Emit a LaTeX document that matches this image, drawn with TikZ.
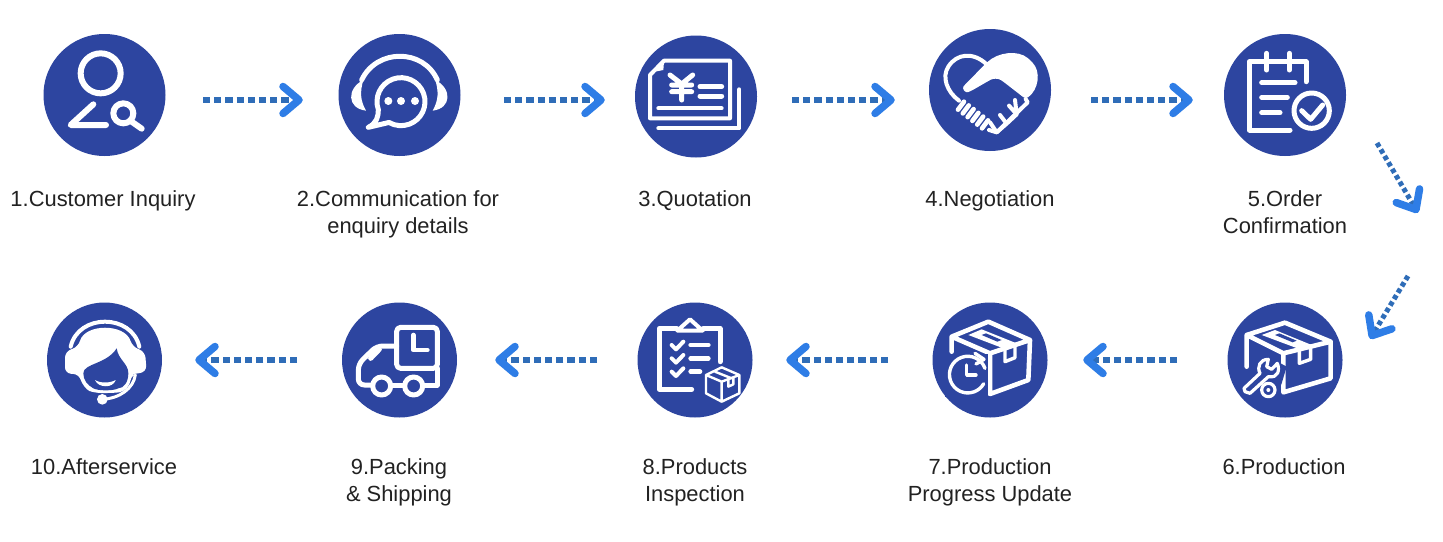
\documentclass[tikz,border=0pt]{standalone}
\usepackage{fontspec}
\setmainfont{Liberation Sans}
\usetikzlibrary{arrows.meta}
\definecolor{disc}{HTML}{2D45A0}
\definecolor{dotc}{HTML}{2F6DB8}
\definecolor{tipc}{HTML}{2E7DE6}
\definecolor{txt}{HTML}{222222}
\pgfdeclarearrow{
  name=Chev,
  setup code={\pgfarrowssettipend{0pt}\pgfarrowssetlineend{-8pt}\pgfarrowssetvisualbackend{-20pt}\pgfarrowssetbackend{-20pt}},
  drawing code={
    \pgfsetdash{}{0pt}
    \pgfsetlinewidth{7.5pt}\pgfsetroundcap\pgfsetroundjoin
    \pgfsetstrokecolor{tipc}
    \pgfpathmoveto{\pgfqpoint{-20pt}{13.5pt}}
    \pgfpathlineto{\pgfqpoint{-4pt}{0pt}}
    \pgfpathlineto{\pgfqpoint{-20pt}{-13.5pt}}
    \pgfusepathqstroke
  },
  defaults={}
}
\tikzset{
  x=1pt,y=-1pt,
  disc1/.style={circle,fill=disc,inner sep=0pt,minimum size=122pt},
  disc2/.style={circle,fill=disc,inner sep=0pt,minimum size=115pt},
  lab/.style={align=center,font=\fontsize{21.9}{27}\selectfont,text=txt,inner sep=0pt},
  flow/.style={dotc,line width=5.5pt,dash pattern=on 7.2pt off 4pt,-{Chev}},
  flowd/.style={dotc,line width=5pt,dash pattern=on 4.5pt off 3pt,-{Chev}},
  ico/.style={draw=white,line width=6pt,line cap=round,line join=round},
  icos/.style={draw=white,line width=4pt,line cap=round,line join=round},
  icot/.style={draw=white,line width=2.4pt,line cap=round,line join=round},
  zm/.style={x=.33333pt,y=-.33333pt},
}
\begin{document}
\begin{tikzpicture}
\useasboundingbox (0,0) rectangle (1443,541);
\fill[white] (0,0) rectangle (1443,541);
% discs
\node[disc1] (c1) at (104.5,95) {};
\node[disc1] (c2) at (399.5,95) {};
\node[disc1] (c3) at (696,96.5) {};
\node[disc1] (c4) at (990,90) {};
\node[disc1] (c5) at (1285,95) {};
\node[disc2] (c6) at (1285,360) {};
\node[disc2] (c7) at (990,360) {};
\node[disc2] (c8) at (695,360) {};
\node[disc2] (c9) at (399.5,360) {};
\node[disc2] (c10) at (104.5,360) {};
% labels
\node[lab] (l1) at (103,200.6) {\strut 1.Customer Inquiry};
\node[lab] (l2) at (398,214.1) {\strut 2.Communication for\\\strut enquiry details};
\node[lab] (l3) at (695,200.6) {\strut 3.Quotation};
\node[lab] (l4) at (990,200.6) {\strut 4.Negotiation};
\node[lab] (l5) at (1285,214.1) {\strut 5.Order\\\strut Confirmation};
\node[lab] (l6) at (1284,468.6) {\strut 6.Production};
\node[lab] (l7) at (990,482.1) {\strut 7.Production\\\strut Progress Update};
\node[lab] (l8) at (695,482.1) {\strut 8.Products\\\strut Inspection};
\node[lab] (l9) at (399,482.1) {\strut 9.Packing\\\strut \& Shipping};
\node[lab] (l10) at (104,468.6) {\strut 10.Afterservice};
% connector ends
\coordinate (a1s) at (203,100); \coordinate (a1e) at (303,100);
\coordinate (a2s) at (504,100); \coordinate (a2e) at (605,100);
\coordinate (a3s) at (792,100); \coordinate (a3e) at (895,100);
\coordinate (a4s) at (1091,100); \coordinate (a4e) at (1193,100);
\coordinate (a5s) at (1377,143); \coordinate (a5e) at (1418,213);
\coordinate (a6s) at (1408,276); \coordinate (a6e) at (1370,339);
\coordinate (a7s) at (1177,360); \coordinate (a7e) at (1083,360);
\coordinate (a8s) at (888,360); \coordinate (a8e) at (786,360);
\coordinate (a9s) at (597,360); \coordinate (a9e) at (495,360);
\coordinate (a10s) at (297,360); \coordinate (a10e) at (195,360);
\foreach \i in {1,2,3,4,7,8,9,10}{\draw[flow] (a\i s) -- (a\i e);}
\foreach \i in {5,6}{\draw[flowd] (a\i s) -- (a\i e);}
% icon 1
\begin{scope}[shift={(30,20)},zm]
\draw[ico] (212,160) circle (60);
\draw[ico] (190,253) -- (122,315) -- (228,315);
\draw[ico] (280,280) circle (30);
\draw[ico] (305,305) -- (335,326);
% icon 2
\draw[icos,line width=5pt] (995,180) .. controls (1040,85) and (1180,85) .. (1222,180);
\fill[white] (1000,180) .. controls (950,205) and (950,265) .. (1008,272) .. controls (990,240) and (990,215) .. (1000,180);
\fill[white] (1216,180) .. controls (1266,205) and (1266,265) .. (1208,272) .. controls (1226,240) and (1226,215) .. (1216,180);
\draw[icos,line width=5pt] (1113,245) ++(160:72) arc (160:480:72) -- (1015,322) .. controls (1040,310) and (1045,290) .. (1045,270);
\foreach \p in {1075,1113,1155}{\fill[white] (\p,243) circle (12);}
\end{scope}
% icon 3
\begin{scope}[shift={(620,20)},zm]
\draw[icos] (132,122) -- (330,122) -- (330,295) -- (90,295) -- (90,165) -- cycle;
\fill[white] (105,155) -- (130,150) -- (132,125) -- cycle;
\draw[ico,line width=5pt] (150,165) -- (185,192) -- (218,165) (155,195) -- (215,195) (155,215) -- (215,215) (185,192) -- (185,240);
\draw[icos,line width=5pt] (240,200) -- (305,200) (240,228) -- (305,228);
\draw[icos] (115,265) -- (305,265);
\draw[icos] (358,208) -- (358,325) -- (115,325);
\end{scope}
% icon 4
\begin{scope}[shift={(935,35)},zm]
\draw[icos] (72,197) .. controls (35,170) and (20,125) .. (40,95) .. controls (65,55) and (115,50) .. (155,88);
\fill[white,rounded corners=3pt] (150,88) .. controls (190,50) and (250,45) .. (285,75) .. controls (320,110) and (310,165) .. (272,192)
  -- (205,140) .. controls (190,130) and (175,130) .. (160,138) -- (108,168) .. controls (90,175) and (80,160) .. (92,147) -- cycle;
\draw[icos] (272,192) -- (278,202) -- (185,292) -- (162,285);
\draw[icos] (240,195) -- (245,238) -- (222,212) (245,238) -- (215,266) -- (195,240) (215,266) -- (185,292) -- (165,262);
\foreach \q in {0,.2,.4,.6,.8,1}{
  \path (78,212) -- (150,268) coordinate[pos=\q] (b);
  \draw[ico,line width=4.6pt] (b) ++(-9,12) -- ++(18,-24);
}
\end{scope}
% icon 5 and 6
\begin{scope}[shift={(1200,20)},zm]
\draw[ico,line width=5pt] (270,330) -- (148,330) -- (148,125) -- (318,125) -- (318,185);
\draw[ico,line width=5pt] (200,100) -- (200,150) (268,100) -- (268,150);
\draw[ico,line width=5pt] (185,188) -- (285,188) (185,232) -- (262,232) (185,278) -- (240,278);
\draw[ico,line width=5pt] (335,272) circle (53);
\draw[ico,line width=5pt] (305,272) -- (332,298) -- (368,255);
% box + wrench
\draw[icos,line width=4.6pt] (140,1040) -- (140,945) -- (255,908) -- (392,965) -- (392,1075) -- (250,1117) -- (250,1000) -- (140,945) (250,1000) -- (392,965);
\fill[white] (185,945) -- (225,930) -- (335,975) -- (300,988) -- cycle;
\fill[disc] (225,945) -- (238,940) -- (290,962) -- (278,967) -- cycle;
\draw[icos,line width=3.4pt] (298,988) -- (298,1030) -- (332,1018) -- (332,978);
\fill[disc] (125,1130) -- (120,1085) -- (205,1010) -- (260,1040) -- (245,1090) -- (230,1130) -- cycle;
\draw[icos,line width=3.2pt] (135,1115) -- (150,1120) -- (205,1070) .. controls (235,1075) and (240,1050) .. (232,1030) -- (215,1048) -- (200,1040) -- (205,1018) .. controls (180,1018) and (170,1040) .. (180,1060) -- (132,1105) -- cycle;
\draw[icos,line width=3.2pt] (205,1110) circle (20);
\fill[white] (205,1110) circle (6);
\end{scope}
% icon 7 and 8
\begin{scope}[shift={(620,290)},zm]
\draw[icos,line width=4.6pt] (995,185) -- (995,140) -- (1105,95) -- (1230,150) -- (1225,270) -- (1110,312) -- (1110,190) -- (995,140) (1110,190) -- (1230,150);
\fill[white] (1045,135) -- (1085,118) -- (1190,160) -- (1150,175) -- cycle;
\fill[disc] (1085,135) -- (1098,130) -- (1145,150) -- (1132,155) -- cycle;
\draw[icos,line width=3.4pt] (1155,175) -- (1155,215) -- (1185,203) -- (1185,163);
\fill[disc] (975,192) rectangle (1103,320);
\draw[icos,line width=3.4pt] (1095,235) arc (-20:-330:55);
\draw[icos,line width=3.4pt] (1040,225) -- (1040,255) -- (1068,255);
\draw[icos,line width=3.4pt] (1065,190) -- (1092,208) -- (1068,222);
% clipboard
\draw[ico,line width=5pt] (215,298) -- (118,298) -- (118,115) -- (170,115) (250,115) -- (300,115) -- (300,215);
\draw[icos] (172,122) -- (210,88) -- (248,122) -- cycle;
\foreach \v/\w in {165/265,205/265,245/240}{
  \draw[icos] (155,\v) -- (168,\v+13) -- (190,\v-10);
  \draw[ico,line width=4.6pt] (212,\v) -- (\w,\v);
}
\draw[icot] (258,255) -- (305,232) -- (358,255) -- (358,310) -- (305,335) -- (258,310) -- cycle (258,255) -- (305,275) -- (358,255) (305,275) -- (305,335);
\draw[icot] (285,245) -- (335,265) (325,268) -- (325,290) -- (340,283) -- (340,262);
\end{scope}
% icon 9
\begin{scope}[shift={(30,290)},zm]
\draw[ico,line width=5pt,rounded corners=4pt] (1100,112) rectangle (1222,235);
\draw[ico,line width=4.6pt] (1150,135) -- (1150,180) -- (1192,180);
\draw[ico,line width=5pt,rounded corners=6pt] (1100,168) -- (1040,168) -- (985,222) -- (985,285) -- (1022,285);
\draw[ico,line width=5pt] (1088,285) -- (1118,285) (1184,285) -- (1222,285) -- (1222,235);
\draw[ico,line width=5pt] (1022,205) -- (1048,178);
\draw[ico,line width=5pt] (1055,288) circle (27) (1151,288) circle (27);
\end{scope}
% icon 10
\begin{scope}[shift={(50,305)},zm]
\draw[icos] (62,125) .. controls (85,25) and (245,25) .. (268,125);
\fill[white,rounded corners=6pt] (45,140) -- (85,125) .. controls (105,55) and (225,55) .. (247,125) -- (285,140) -- (290,200) -- (250,208) -- (244,208) .. controls (240,240) and (225,260) .. (190,264) -- (135,264) .. controls (110,255) and (95,235) .. (88,208) -- (45,205) -- cycle;
\fill[disc] (100,205) .. controls (100,175) and (170,178) .. (200,130) .. controls (205,165) and (235,175) .. (235,205) .. controls (235,230) and (222,250) .. (205,250) .. controls (190,258) and (145,258) .. (130,250) .. controls (112,240) and (100,225) .. (100,205) -- cycle;
\fill[white] (135,225) .. controls (150,235) and (180,235) .. (197,225) .. controls (190,250) and (145,250) .. (135,225) -- cycle;
\draw[icot,line width=3pt] (256,210) .. controls (250,250) and (210,280) .. (157,283);
\fill[white] (157,283) circle (16);
\end{scope}
\end{tikzpicture}
\end{document}
